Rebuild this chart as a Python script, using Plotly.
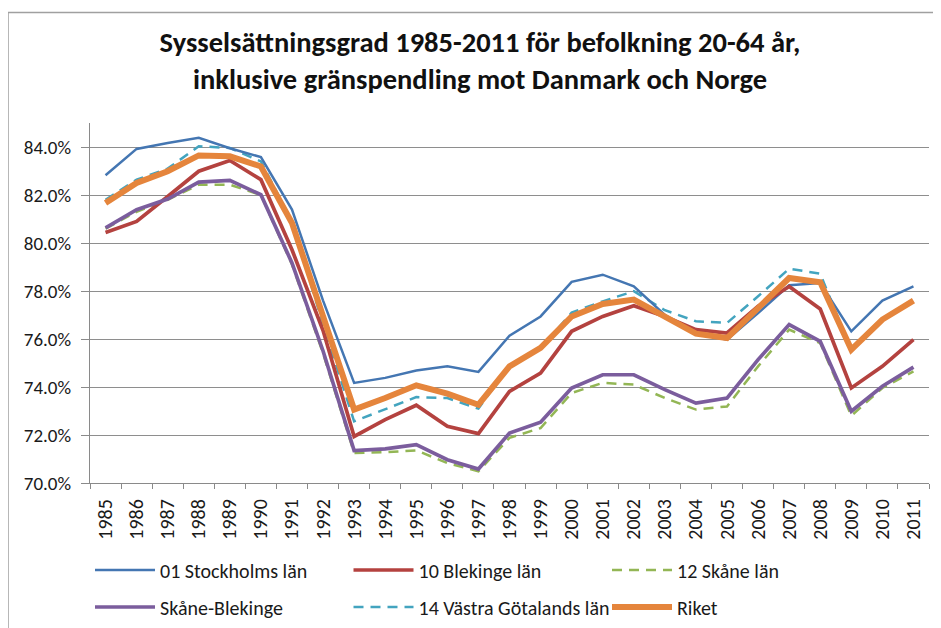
import plotly.graph_objects as go

years = [str(y) for y in range(1985, 2012)]

stockholm = [82.82, 83.92, 84.17, 84.38, 83.95, 83.58, 81.39, 77.6, 74.17, 74.38, 74.69, 74.86, 74.63,
             76.14, 76.94, 78.38, 78.68, 78.19, 77.0, 76.25, 75.97, 77.08, 78.24, 78.33, 76.32, 77.6, 78.19]
blekinge = [80.44, 80.9, 81.94, 82.99, 83.44, 82.64, 79.72, 76.35, 71.94, 72.64, 73.24, 72.36, 72.06,
            73.82, 74.58, 76.32, 76.94, 77.39, 76.94, 76.39, 76.25, 77.36, 78.19, 77.25, 73.96, 74.86, 75.97]
skane = [80.6, 81.3, 81.8, 82.43, 82.43, 82.0, 79.1, 75.4, 71.25, 71.28, 71.36, 70.83, 70.49,
         71.88, 72.29, 73.75, 74.17, 74.1, 73.54, 73.06, 73.19, 74.86, 76.39, 75.83, 72.8, 73.96, 74.65]
skane_blekinge = [80.63, 81.39, 81.83, 82.54, 82.61, 82.01, 79.17, 75.5, 71.35, 71.42, 71.6, 70.97, 70.58,
                  72.08, 72.53, 73.96, 74.51, 74.51, 73.89, 73.33, 73.54, 75.14, 76.6, 75.9, 72.99, 74.03, 74.83]
vastra = [81.8, 82.64, 83.1, 84.03, 83.96, 83.4, 80.9, 76.6, 72.57, 73.06, 73.58, 73.54, 73.1,
          74.9, 75.6, 77.1, 77.57, 77.99, 77.2, 76.74, 76.67, 77.78, 78.93, 78.72, 75.5, 76.8, 77.55]
riket = [81.67, 82.5, 82.99, 83.65, 83.61, 83.19, 80.83, 76.9, 73.06, 73.54, 74.07, 73.72, 73.26,
         74.86, 75.63, 76.94, 77.46, 77.64, 76.94, 76.22, 76.04, 77.29, 78.54, 78.36, 75.56, 76.81, 77.6]

series_names = ["01 Stockholms län", "10 Blekinge län", "12 Skåne län",
                "Skåne-Blekinge", "14 Västra Götalands län", "Riket"]
y_ticks = [70, 72, 74, 76, 78, 80, 82, 84]

FONT = "Carlito, Calibri, Lato, sans-serif"

styles = [
    dict(color="#4476B2", width=2.5, dash="solid"),
    dict(color="#B4423F", width=3.7, dash="solid"),
    dict(color="#93B655", width=2.5, dash="10px,7px"),
    dict(color="#7B5D9D", width=3.7, dash="solid"),
    dict(color="#43A4BF", width=2.5, dash="10px,7px"),
    dict(color="#E5853C", width=6, dash="solid"),
]
data = [stockholm, blekinge, skane, skane_blekinge, vastra, riket]
legend_of = ["legend", "legend", "legend", "legend2", "legend2", "legend2"]
# drawing order: Skåne under Skåne-Blekinge, Västra under Riket
draw_order = [2, 4, 0, 1, 3, 5]

fig = go.Figure()
for i in draw_order:
    fig.add_trace(go.Scatter(
        x=years, y=data[i], mode="lines", name=series_names[i],
        line=dict(color=styles[i]["color"], width=styles[i]["width"], dash=styles[i]["dash"]),
        legendrank=i + 1, legend=legend_of[i],
    ))

OFF = 8  # page body margin
W, H = 941 - OFF, 628 - OFF
L, R, T = 90 - OFF, 12, 123 - OFF
B = H - (483 - OFF)
pw, ph = W - L - R, H - T - B


def px_x(p):  # p: page pixel x
    return (p - OFF - L) / pw


def px_y(p):  # p: page pixel y
    return (H - B - (p - OFF)) / ph


leg_common = dict(orientation="h", xanchor="left", yanchor="middle",
                  entrywidth=183.5, itemwidth=60, font=dict(size=20), traceorder="normal",
                  bgcolor="rgba(0,0,0,0)")

fig.update_layout(
    width=W, height=H,
    margin=dict(l=L, r=R, t=T, b=B, autoexpand=False),
    paper_bgcolor="white", plot_bgcolor="white",
    font=dict(family=FONT, size=19, color="#1a1a1a"),
    title=dict(
        text="<b>Sysselsättningsgrad 1985-2011 för befolkning 20-64 år,<br>inklusive gränspendling mot Danmark och Norge</b>",
        x=(480 - OFF) / W, xanchor="center", y=1 - (52 - OFF) / H, yanchor="middle",
        font=dict(family=FONT, size=28.5, color="#111111"),
    ),
    xaxis=dict(
        type="category", range=[-0.5, 26.5],
        showgrid=False, showline=True, linecolor="#8a8a8a", linewidth=1.3,
        ticks="outside", ticklen=5, tickcolor="#8a8a8a", tickwidth=1.3,
        tickson="boundaries", tickangle=-90, ticklabelstandoff=7,
        tickfont=dict(size=20),
    ),
    yaxis=dict(
        range=[70, 85], tickvals=y_ticks,
        ticktext=[f"{v:.1f}%" for v in y_ticks],
        showgrid=True, gridcolor="#8e8e8e", gridwidth=1.3,
        showline=True, linecolor="#8a8a8a", linewidth=1.3,
        ticks="outside", ticklen=8, tickcolor="#8a8a8a", tickwidth=1.3,
        ticklabelstandoff=6,
        zeroline=False, tickfont=dict(size=19),
    ),
    legend=dict(x=px_x(90), y=px_y(570), **leg_common),
    legend2=dict(x=px_x(90), y=px_y(607), **leg_common),
    showlegend=True,
)

fig.add_shape(type="rect", xref="paper", yref="paper",
              x0=px_x(8), x1=px_x(990), y0=px_y(700), y1=px_y(12.5),
              line=dict(color="#a0a0a0", width=1.5), fillcolor="rgba(0,0,0,0)", layer="below")

fig.write_html("out.html")
